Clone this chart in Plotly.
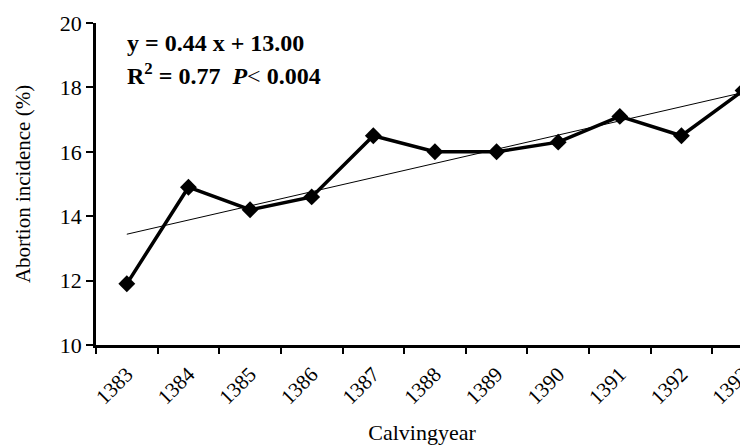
import plotly.graph_objects as go

years = ["1383", "1384", "1385", "1386", "1387", "1388", "1389", "1390", "1391", "1392", "1393"]
abortion = [11.9, 14.9, 14.2, 14.6, 16.5, 16.0, 16.0, 16.3, 17.1, 16.5, 17.9]
trend_years = ["1383", "1393"]
trend_values = [13.44, 17.84]
y_ticks = [10, 12, 14, 16, 18, 20]

FONT = "Liberation Serif, Times New Roman, serif"

fig = go.Figure()
fig.add_trace(go.Scatter(
    x=trend_years, y=trend_values, mode="lines",
    line=dict(color="black", width=1), showlegend=False, hoverinfo="skip"))
fig.add_trace(go.Scatter(
    x=years, y=abortion, mode="lines+markers",
    line=dict(color="black", width=3.5),
    marker=dict(symbol="diamond", size=13, color="black"),
    showlegend=False))

fig.update_layout(
    width=740, height=437,
    margin=dict(l=88, r=0, t=15, b=100),
    paper_bgcolor="white", plot_bgcolor="white",
    font=dict(family=FONT, color="black", size=20),
    xaxis=dict(
        type="category", categoryorder="array", categoryarray=years,
        range=[-0.5, 10.08], tickson="boundaries", automargin=False,
        ticks="outside", ticklen=6, tickwidth=2, tickcolor="black",
        showline=True, linecolor="black", linewidth=2.5,
        showgrid=False, zeroline=False, tickangle=-45,
        tickfont=dict(size=21), ticklabelstandoff=6,
        title=dict(text="Calvingyear", font=dict(size=22), standoff=36),
    ),
    yaxis=dict(
        range=[10, 20], tickvals=y_ticks, automargin=False,
        ticks="outside", ticklen=7, tickwidth=2, tickcolor="black",
        showline=True, linecolor="black", linewidth=2.5,
        showgrid=False, zeroline=False,
        tickfont=dict(size=22),
        title=dict(text="Abortion incidence (%)", font=dict(size=21), standoff=24),
    ),
    annotations=[
        dict(text="<b>y = 0.44 x + 13.00</b>", xref="paper", yref="paper",
             x=0.0445, y=0.938, xanchor="left", yanchor="middle", showarrow=False,
             font=dict(size=24)),
        dict(text="<b>R<sup>2</sup> = 0.77  <i>P</i></b>&lt; <b>0.004</b>", xref="paper", yref="paper",
             x=0.0445, y=0.842, xanchor="left", yanchor="middle", showarrow=False,
             font=dict(size=24)),
    ],
)

fig.write_html("out.html")
